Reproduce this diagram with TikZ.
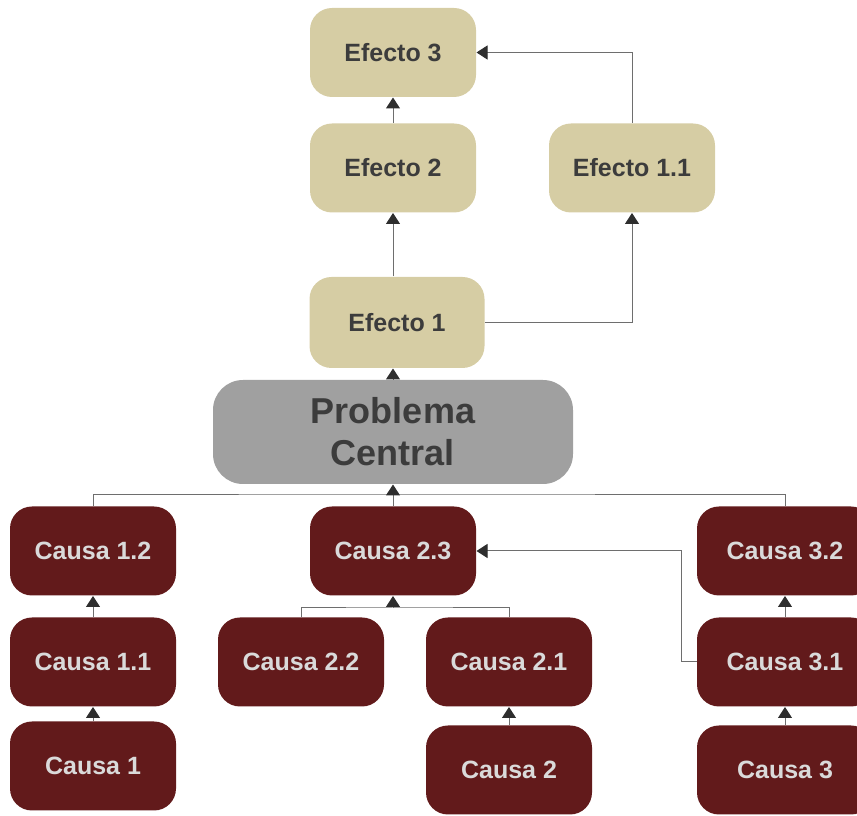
\documentclass[tikz,border=0pt]{standalone}
\usepackage{fontspec}
\setmainfont{Liberation Sans}
\usetikzlibrary{arrows.meta}
\definecolor{efectofill}{HTML}{D6CDA4}
\definecolor{causafill}{HTML}{621A1B}
\definecolor{problemafill}{HTML}{A0A0A0}
\definecolor{textodark}{HTML}{3C3C3C}
\definecolor{textolight}{HTML}{DADADA}
\definecolor{linea}{HTML}{6E6E6E}
\tikzset{
  efecto/.style={fill=efectofill,rounded corners=22pt,minimum width=166pt,minimum height=89pt,
    inner sep=0pt,text=textodark,font=\fontsize{25}{28}\selectfont\bfseries},
  causa/.style={fill=causafill,rounded corners=22pt,minimum width=166pt,minimum height=89pt,
    inner sep=0pt,text=textolight,font=\fontsize{25}{28}\selectfont\bfseries},
  problema/.style={fill=problemafill,rounded corners=30pt,minimum width=360pt,minimum height=104pt,
    inner sep=0pt,text=textodark,align=center,font=\fontsize{36}{42}\selectfont\bfseries},
  flecha/.style={-{Triangle[width=14pt,length=11pt,color=black!82]}},
}
\begin{document}
\begin{tikzpicture}[x=1pt,y=1pt,line width=1pt,draw=linea]
\clip (0,0) rectangle (857,816);
% efectos
\node[efecto] (e3) at (393,763.5) {Efecto 3};
\node[efecto] (e2) at (393,648) {Efecto 2};
\node[efecto] (e11) at (632,648) {Efecto 1.1};
\node[efecto,minimum width=175pt,minimum height=91pt] (e1) at (397,493.5) {Efecto 1};
% problema
\node[problema] (pc) at (393,384) {Problema\\Central};
% causas
\node[causa] (c12) at (93,265) {Causa 1.2};
\node[causa] (c23) at (393,265) {Causa 2.3};
\node[causa,minimum width=176pt] (c32) at (785,265) {Causa 3.2};
\node[causa] (c11) at (93,154) {Causa 1.1};
\node[causa] (c22) at (301,154) {Causa 2.2};
\node[causa] (c21) at (509,154) {Causa 2.1};
\node[causa,minimum width=176pt] (c31) at (785,154) {Causa 3.1};
\node[causa] (c1) at (93,50) {Causa 1};
\node[causa] (c2) at (509,46) {Causa 2};
\node[causa,minimum width=176pt] (c3) at (785,46) {Causa 3};
\coordinate (ja) at (393,321);
\coordinate (jb) at (393,208);
% conectores
\draw[flecha] (c1) -- (c11);
\draw[flecha] (c11) -- (c12);
\draw[flecha] (c2) -- (c21);
\draw[flecha] (c3) -- (c31);
\draw[flecha] (c31) -- (c32);
\draw (c22.north) |- (jb) -| (c21.north);
\draw[flecha] (jb) -- (c23.south);
\draw[flecha] (c31.west) -- ++(-15,0) |- (c23.east);
\draw (c12.north) |- (ja) -| (c32.north);
\draw[flecha] (c23.north) -- (pc.south);
\draw[flecha] (pc.north) -- (pc.north |- e1.south);
\draw[flecha] (e2.south |- e1.north) -- (e2.south);
\draw[flecha] (e2) -- (e3);
\draw[flecha] (e1.east) -| (e11.south);
\draw[flecha] (e11.north) |- (e3.east);
\end{tikzpicture}
\end{document}
